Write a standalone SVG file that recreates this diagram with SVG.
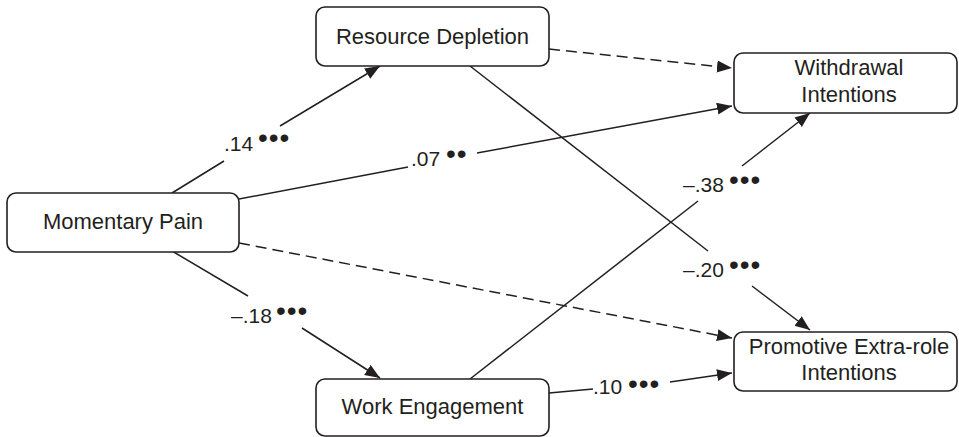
<svg xmlns="http://www.w3.org/2000/svg" width="959" height="437" viewBox="0 0 959 437">
<style>
.box{fill:#fff;stroke:#231f20;stroke-width:1.6}
.nt{font-family:"Liberation Sans",Arial,sans-serif;font-size:22px;fill:#231f20;text-anchor:middle}
.lb{font-family:"Liberation Sans",Arial,sans-serif;font-size:21px;fill:#231f20}
.dt{font-family:"Liberation Sans",Arial,sans-serif;font-size:28px;fill:#231f20;letter-spacing:1px}
.ln{fill:none;stroke:#231f20;stroke-width:1.5}
.ds{stroke-dasharray:11 6}
</style>
<defs>
<marker id="ah" markerUnits="userSpaceOnUse" markerWidth="16" markerHeight="14" refX="15" refY="6" orient="auto">
<path d="M0,0 L15,6 L0,12 z" fill="#231f20"/>
</marker>
</defs>
<g id="connectors">
<line class="ln" x1="172" y1="193" x2="224" y2="161"/>
<line class="ln" x1="280" y1="126" x2="380" y2="66" marker-end="url(#ah)"/>
<line class="ln" x1="239" y1="199" x2="408" y2="167"/>
<line class="ln" x1="477" y1="153" x2="732" y2="106" marker-end="url(#ah)"/>
<line class="ln ds" x1="549" y1="49" x2="732" y2="68" marker-end="url(#ah)"/>
<line class="ln" x1="470" y1="66" x2="708" y2="251"/>
<line class="ln" x1="752" y1="286" x2="810" y2="330" marker-end="url(#ah)"/>
<line class="ln" x1="470" y1="379" x2="698" y2="201"/>
<line class="ln" x1="742" y1="166" x2="810" y2="113" marker-end="url(#ah)"/>
<line class="ln" x1="172" y1="251" x2="248" y2="296"/>
<line class="ln" x1="302" y1="328" x2="380" y2="378" marker-end="url(#ah)"/>
<line class="ln ds" x1="239" y1="243" x2="732" y2="338" marker-end="url(#ah)"/>
<line class="ln" x1="549" y1="393" x2="593" y2="389"/>
<line class="ln" x1="670" y1="382" x2="732" y2="373" marker-end="url(#ah)"/>
<text class="lb" x="224" y="151">.14</text><text class="dt" x="258" y="147">•••</text>
<text class="lb" x="411" y="166">.07</text><text class="dt" x="446" y="163">••</text>
<text class="lb" x="683" y="192">–.38</text><text class="dt" x="729" y="189">•••</text>
<text class="lb" x="683" y="277">–.20</text><text class="dt" x="729" y="274">•••</text>
<text class="lb" x="231" y="323">–.18</text><text class="dt" x="276" y="320">•••</text>
<text class="lb" x="593" y="394">.10</text><text class="dt" x="628" y="393">•••</text>
</g>
<g id="node-resource">
<rect class="box" x="316" y="7" width="233" height="59" rx="9"/>
<text class="nt" x="432.5" y="44">Resource Depletion</text>
</g>
<g id="node-withdrawal">
<rect class="box" x="734" y="53" width="223" height="60" rx="9"/>
<text class="nt" x="849" y="75">Withdrawal</text>
<text class="nt" x="849" y="102">Intentions</text>
</g>
<g id="node-pain">
<rect class="box" x="7" y="193" width="232" height="59" rx="9"/>
<text class="nt" x="123" y="229">Momentary Pain</text>
</g>
<g id="node-promotive">
<rect class="box" x="734" y="332" width="223" height="59" rx="9"/>
<text class="nt" x="849" y="354">Promotive Extra-role</text>
<text class="nt" x="849" y="380">Intentions</text>
</g>
<g id="node-engagement">
<rect class="box" x="316" y="379" width="233" height="57" rx="9"/>
<text class="nt" x="432.5" y="414">Work Engagement</text>
</g>
</svg>
